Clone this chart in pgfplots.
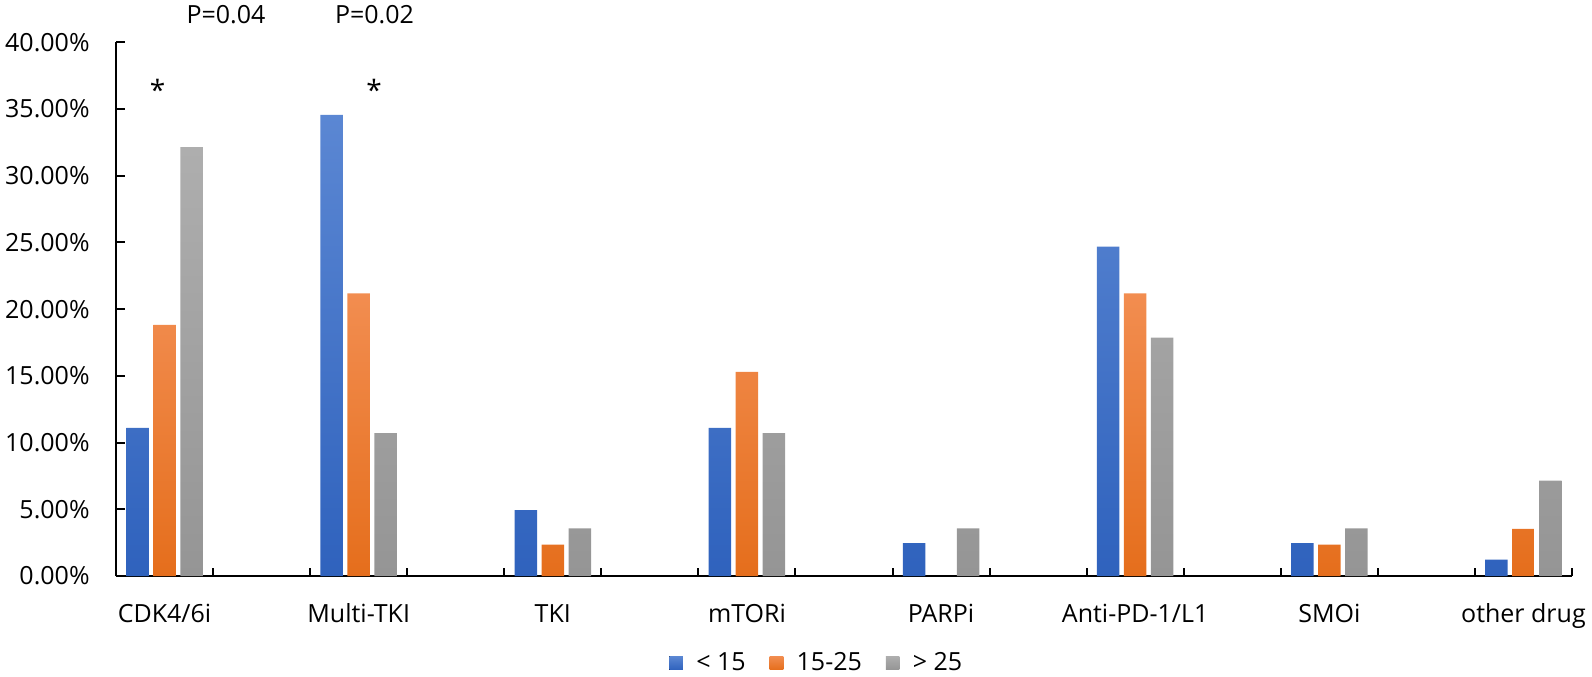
\documentclass[border=0pt]{standalone}
\usepackage{fontspec}
\setmainfont{Open Sans}
\usepackage{pgfplots}
\pgfplotsset{compat=1.18}
\definecolor{cblueT}{HTML}{5B87D3}
\definecolor{cblueB}{HTML}{2F62BD}
\definecolor{corgT}{HTML}{F28D50}
\definecolor{corgB}{HTML}{E56E1C}
\definecolor{cgryT}{HTML}{AEAEAE}
\definecolor{cgryB}{HTML}{959595}
\begin{document}
\begin{tikzpicture}
\begin{axis}[
  at={(58pt,50pt)}, anchor=south west,
  scale only axis, width=728pt, height=266.85pt,
  xmin=-0.5, xmax=14.5, ymin=0, ymax=40,
  ybar=2.25pt, bar width=11.25pt,
  axis x line*=bottom, axis y line*=left,
  axis line style={line width=1pt, black},
  tick align=inside,
  xtick={0,2,...,14},
  xticklabels={CDK4/6i,Multi-TKI,TKI,mTORi,PARPi,Anti-PD-1/L1,SMOi,other drug},
  minor xtick={-0.5,0.5,...,14.5},
  tick style={black, line width=1pt},
  major x tick style={draw=none},
  minor tick length=4pt, major tick length=4.5pt,
  ytick={0,5,...,40},
  yticklabel={\pgfmathprintnumber[fixed,fixed zerofill,precision=2,assume math mode=true]{\tick}\%},
  tick label style={font=\fontsize{12.5}{15}\selectfont, black},
  yticklabel style={anchor=east, inner sep=0pt, xshift=-13pt},
  xticklabel style={anchor=base, inner sep=0pt, yshift=-23pt},
  clip=false,
  legend columns=3,
  legend style={draw=none, fill=none, at={(0.482,-0.163)}, anchor=center,
    font=\fontsize{12.5}{15}\selectfont,
    /tikz/every even column/.append style={column sep=10pt}},
  legend image code/.code={\fill[#1] (0pt,-3.4pt) rectangle (6.8pt,3.4pt);
    \path (0pt,0pt) -- (11.5pt,0pt);},
]
\addplot[draw=none, top color=cblueT, bottom color=cblueB] coordinates {
  (0,11.11) (2,34.57) (4,4.94) (6,11.11) (8,2.47) (10,24.69) (12,2.47) (14,1.23)};
\addlegendentry{< 15}
\addplot[draw=none, top color=corgT, bottom color=corgB] coordinates {
  (0,18.82) (2,21.18) (4,2.35) (6,15.29) (10,21.18) (12,2.35) (14,3.53)};
\addlegendentry{15-25}
\addplot[draw=none, top color=cgryT, bottom color=cgryB] coordinates {
  (0,32.14) (2,10.71) (4,3.57) (6,10.71) (8,3.57) (10,17.86) (12,3.57) (14,7.14)};
\addlegendentry{> 25}
\node[anchor=base, font=\fontsize{12.5}{15}\selectfont] at (axis cs:0.633,41.38) {P=0.04};
\node[anchor=base, font=\fontsize{12.5}{15}\selectfont] at (axis cs:2.163,41.38) {P=0.02};
\node[anchor=center, font=\fontsize{14}{16}\selectfont] at (axis cs:-0.072,36.4) {*};
\node[anchor=center, font=\fontsize{14}{16}\selectfont] at (axis cs:2.158,36.4) {*};
\end{axis}
\pgfresetboundingbox
\path (0,0) rectangle (796pt,338pt);
\end{tikzpicture}
\end{document}
